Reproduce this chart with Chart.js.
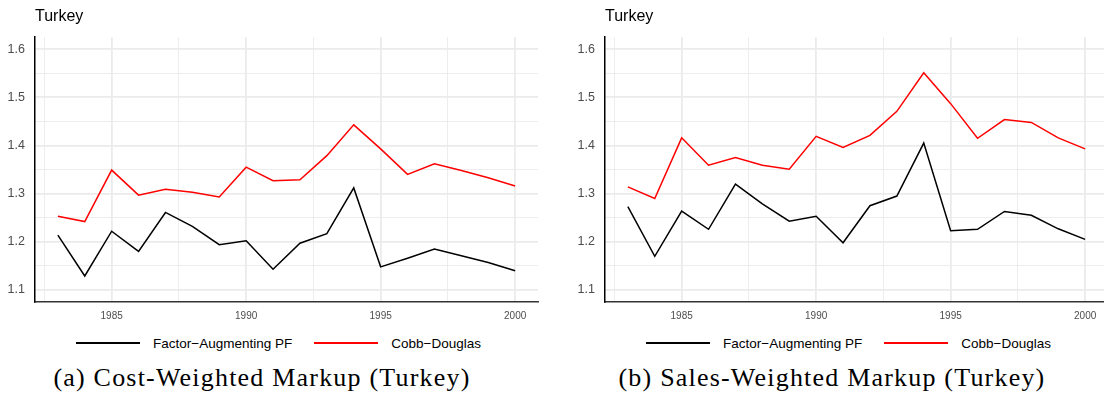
<!DOCTYPE html>
<html>
<head>
<meta charset="utf-8">
<script src="https://cdn.jsdelivr.net/npm/chart.js@4"></script>
<style>
  html, body { margin: 0; padding: 0; background: #fff; overflow: hidden; }
  #page { position: relative; width: 1104px; height: 400px; overflow: hidden; }
  .panel { position: absolute; top: 0; width: 557px; height: 322px; }
  .legend {
    position: absolute; top: 333px; width: 557px; height: 20px;
    display: flex; justify-content: center; align-items: center;
    font: 13.5px "Liberation Sans", Arial, sans-serif; color: #000;
  }
  .legend .item { display: flex; align-items: center; margin: 0 11px; }
  .legend .swatch { width: 64px; height: 1.6px; margin-right: 13px; }
  .caption {
    position: absolute; top: 363px; width: 600px; text-align: center;
    font: 26px/30px "Liberation Serif", "Times New Roman", serif; letter-spacing: 1.2px; color: #000;
  }
</style>
</head>
<body>
<div id="page">
  <div class="panel" style="left:0"><canvas id="costChart"></canvas></div>
  <div class="panel" style="left:570px"><canvas id="salesChart"></canvas></div>
  <div class="legend" style="left:0" id="legendA"></div>
  <div class="legend" style="left:570px" id="legendB"></div>
  <div class="caption" style="left:-38px">(a) Cost-Weighted Markup (Turkey)</div>
  <div class="caption" style="left:532px">(b) Sales-Weighted Markup (Turkey)</div>
</div>
<script>
// Turkey markups, cost- vs sales-weighted, two estimators

const years = [1983, 1984, 1985, 1986, 1987, 1988, 1989, 1990, 1991,
               1992, 1993, 1994, 1995, 1996, 1997, 1998, 1999, 2000];

const costFactorAug = [1.214, 1.129, 1.222, 1.180, 1.261, 1.232, 1.194, 1.202, 1.143,
                       1.197, 1.217, 1.312, 1.148, 1.166, 1.185, 1.171, 1.157, 1.140];
const costCobbDouglas = [1.253, 1.242, 1.349, 1.297, 1.309, 1.303, 1.293, 1.355, 1.327,
                         1.329, 1.379, 1.443, 1.393, 1.340, 1.362, 1.348, 1.333, 1.316];

const salesFactorAug = [1.273, 1.170, 1.264, 1.226, 1.320, 1.279, 1.243, 1.253, 1.198,
                        1.275, 1.295, 1.405, 1.223, 1.226, 1.263, 1.255, 1.227, 1.205];
const salesCobbDouglas = [1.314, 1.290, 1.416, 1.359, 1.375, 1.359, 1.351, 1.419, 1.396,
                          1.421, 1.471, 1.551, 1.487, 1.415, 1.454, 1.448, 1.416, 1.393];

const xTicks = [1985, 1990, 1995, 2000];
const yTicks = [1.1, 1.2, 1.3, 1.4, 1.5, 1.6];

const seriesNames = ['Factor\u2212Augmenting PF', 'Cobb\u2212Douglas'];
const seriesColors = ['#000000', '#ff0000'];

// major ticks plus ggplot-style minor breaks halfway between them
function withMinors(major) {
  const step = major[1] - major[0];
  const out = [major[0] - step / 2];
  major.forEach((v, i) => {
    out.push(v);
    if (i < major.length - 1) out.push(v + step / 2);
  });
  return out;
}

function isMajor(list, v) {
  return list.some(m => Math.abs(m - v) < 1e-6);
}

function pairs(ys) {
  return years.map((yr, i) => ({ x: yr, y: ys[i] }));
}

function makeChart(id, fa, cd) {
  const gridWidth = list => ctx => (ctx.tick && isMajor(list, ctx.tick.value) ? 1.8 : 0.9);
  return new Chart(document.getElementById(id), {
    type: 'line',
    data: {
      datasets: [
        { label: seriesNames[0], data: pairs(fa), borderColor: seriesColors[0], borderWidth: 1.5, pointRadius: 0, tension: 0 },
        { label: seriesNames[1], data: pairs(cd), borderColor: seriesColors[1], borderWidth: 1.5, pointRadius: 0, tension: 0 }
      ]
    },
    options: {
      responsive: true,
      maintainAspectRatio: false,
      animation: false,
      layout: { padding: { left: 0, right: 19, top: 0, bottom: 0 } },
      plugins: {
        legend: { display: false },
        tooltip: { enabled: false },
        title: {
          display: true, text: 'Turkey', align: 'start', fullSize: false,
          color: '#000', font: { family: 'Liberation Sans', size: 16, weight: 'normal' },
          padding: { top: 7, bottom: 11 }
        }
      },
      scales: {
        x: {
          type: 'linear',
          min: 1982.15, max: 2000.85,
          afterBuildTicks: s => { s.ticks = withMinors(xTicks).map(v => ({ value: v })); },
          afterFit: s => { s.height = 20; },
          ticks: {
            autoSkip: false, maxRotation: 0, padding: 8,
            color: '#4d4d4d', font: { family: 'Liberation Sans', size: 10 },
            callback: v => (isMajor(xTicks, v) ? String(v) : '')
          },
          grid: { color: '#ebebeb', lineWidth: gridWidth(xTicks), drawTicks: false },
          border: { display: true, color: '#333333', width: 1.5 }
        },
        y: {
          min: 1.075, max: 1.625,
          afterBuildTicks: s => { s.ticks = withMinors(yTicks).filter(v => v > 1.075).map(v => ({ value: v })); },
          afterFit: s => { s.width = 35; },
          ticks: {
            padding: 10,
            color: '#4d4d4d', font: { family: 'Liberation Sans', size: 12.5 },
            callback: v => (isMajor(yTicks, v) ? v.toFixed(1) : '')
          },
          grid: { color: '#ebebeb', lineWidth: gridWidth(yTicks), drawTicks: false },
          border: { display: true, color: '#000000', width: 1.5 }
        }
      }
    }
  });
}

function buildLegend(id) {
  const box = document.getElementById(id);
  seriesNames.forEach((name, i) => {
    const item = document.createElement('div');
    item.className = 'item';
    const sw = document.createElement('span');
    sw.className = 'swatch';
    sw.style.background = seriesColors[i];
    const txt = document.createElement('span');
    txt.textContent = name;
    item.appendChild(sw);
    item.appendChild(txt);
    box.appendChild(item);
  });
}

makeChart('costChart', costFactorAug, costCobbDouglas);
makeChart('salesChart', salesFactorAug, salesCobbDouglas);
buildLegend('legendA');
buildLegend('legendB');
</script>
</body>
</html>
